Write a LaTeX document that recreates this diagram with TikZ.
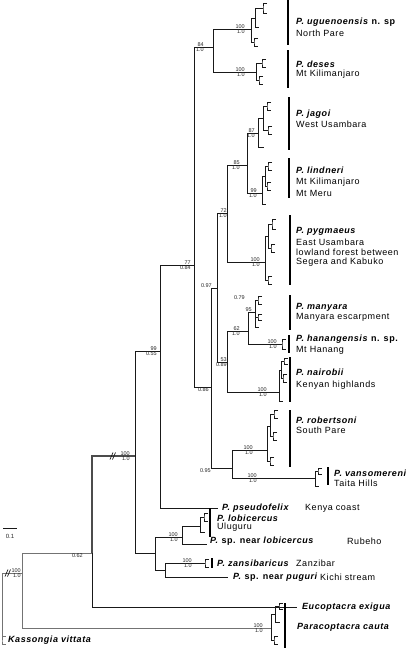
\documentclass[tikz,border=0pt]{standalone}
\usepackage{fontspec}
\setmainfont[LetterSpace=6]{Liberation Sans}
\newfontfamily\bsfont{Liberation Sans}
\tikzset{
  br/.style={draw=black!90, line width=0.7pt},
  gbr/.style={draw=black!55, line width=0.9pt},
  tbr/.style={draw=black!70, line width=1.4pt},
  bar/.style={draw=black, line width=1.3pt},
  sp/.style={anchor=west, inner sep=0pt, font=\fontsize{9}{10}\selectfont\bfseries\itshape},
  loc/.style={anchor=west, inner sep=0pt, font=\fontsize{9}{10}\selectfont},
  bs/.style={inner sep=0pt, font=\bsfont\fontsize{5.5}{5.5}\selectfont, text=black!85},
}
\newcommand\edge[3][br]{\draw[#1] (#2) |- (#3);}
\newcommand\cherry[5][br]{%
  \coordinate (#2) at (#3,#4);
  \coordinate (#2a) at ({#3+4},{#4-#5});
  \coordinate (#2b) at ({#3+4},{#4+#5});
  \draw[#1] (#2a) -| (#2) |- (#2b);}
\newcommand\bsl[4][3]{%
  \node[bs, anchor=south east, xshift=-#1pt, yshift=0.6pt] (#2-t) at (#2) {#3};
  \node[bs, anchor=north east, xshift=-#1pt, yshift=-0.6pt] (#2-b) at (#2) {#4};}
\newcommand\bsu[3][3]{\node[bs, anchor=south east, xshift=-#1pt, yshift=0.6pt] (#2-t) at (#2) {#3};}
\newcommand\bsd[3][3]{\node[bs, anchor=north east, xshift=-#1pt, yshift=-0.6pt] (#2-b) at (#2) {#3};}
\newcommand\brk[1]{\draw[br] (#1) ++(-2,3.5) -- ++(3,-7); \draw[br] (#1) ++(0.5,3.5) -- ++(3,-7);}
\begin{document}
\begin{tikzpicture}[x=1pt,y=-1pt]
\useasboundingbox (0,0) rectangle (406,648);
% ---------- backbone ----------
\coordinate (R) at (2,606);
\coordinate (I) at (22,573);
\cherry[gbr]{K}{2}{640}{4}
\edge[gbr]{R}{I}
\edge[gbr]{R}{K}
\coordinate (N62) at (92,553);
\coordinate (Par) at (271,628);
\edge[gbr]{I}{N62}
\edge[gbr]{I}{Par}
\coordinate (N135) at (135,456);
\coordinate (Euc) at (297,607);
\edge[tbr]{N62}{N135}
\edge{N62}{Euc}
\coordinate (N99) at (160,351);
\coordinate (L) at (155,553);
\edge{N135}{N99}
\edge{N135}{L}
\coordinate (A) at (194,265);
\coordinate (Pse) at (218,508);
\edge{N99}{A}
\edge{N99}{Pse}
\coordinate (D) at (213,47);
\coordinate (X) at (211,387);
\edge{A}{D}
\edge{A}{X}
\coordinate (Ugu) at (251,29);
\coordinate (Des) at (256,72);
\edge{D}{Ugu}
\edge{D}{Des}
\coordinate (B) at (217,288);
\coordinate (H) at (232,468);
\edge{X}{B}
\edge{X}{H}
\coordinate (C) at (227,213);
\coordinate (F) at (227,362);
\edge{B}{C}
\edge{B}{F}
\coordinate (E) at (247,165);
\coordinate (Pyg) at (265,262);
\edge{C}{E}
\edge{C}{Pyg}
\coordinate (Jag) at (258,133);
\coordinate (Lin) at (262,193);
\edge{E}{Jag}
\edge{E}{Lin}
\coordinate (G) at (248,331);
\coordinate (Nai) at (279,392);
\edge{F}{G}
\edge{F}{Nai}
\coordinate (Man) at (255,312);
\coordinate (Han) at (282,344);
\edge{G}{Man}
\edge{G}{Han}
\coordinate (Rob) at (267,450);
\coordinate (Van) at (315,478);
\edge{H}{Rob}
\edge{H}{Van}
\coordinate (Lob) at (182,537);
\coordinate (Z) at (165,570);
\edge{L}{Lob}
\edge{L}{Z}
\coordinate (Lobc) at (200,526);
\coordinate (NLob) at (207,544);
\edge{Lob}{Lobc}
\edge{Lob}{NLob}
\coordinate (Zan) at (205,563);
\coordinate (Pug) at (228,577);
\edge{Z}{Zan}
\edge{Z}{Pug}
% ---------- terminal clusters ----------
\coordinate (u1) at (255,18);
\edge{Ugu}{u1}
\cherry{u2}{254}{42}{4}
\edge{Ugu}{u2}
\cherry{u1a}{263}{8}{5}
\coordinate (u1b) at (259,27);
\edge{u1}{u1a}
\edge{u1}{u1b}
\cherry{d1}{262}{63}{4}
\cherry{d2}{259}{80}{4}
\edge{Des}{d1}
\edge{Des}{d2}
\coordinate (j1) at (263,118);
\coordinate (jt) at (264,147);
\edge{Jag}{j1}
\edge{Jag}{jt}
\cherry{j1a}{267}{106}{4}
\cherry{j1b}{268}{130}{4}
\edge{j1}{j1a}
\edge{j1}{j1b}
\coordinate (l1) at (265,176);
\coordinate (lt) at (266,204);
\edge{Lin}{l1}
\edge{Lin}{lt}
\cherry{l1a}{268}{166}{4}
\cherry{l1b}{267}{186}{4}
\edge{l1}{l1a}
\edge{l1}{l1b}
\coordinate (p1) at (268,236);
\cherry{p2}{268}{280}{4}
\edge{Pyg}{p1}
\edge{Pyg}{p2}
\cherry{p1a}{272}{224}{5}
\cherry{p1b}{271}{248}{4}
\edge{p1}{p1a}
\edge{p1}{p1b}
\cherry{m1}{258}{300}{4}
\cherry{m2}{258}{317}{3}
\coordinate (mt) at (259,327);
\edge{Man}{m1}
\edge{Man}{m2}
\edge{Man}{mt}
\coordinate (Hana) at (286,339);
\coordinate (Hanb) at (286,349);
\draw[br] (Hana) -| (Han) |- (Hanb);
\coordinate (nA) at (281,370);
\coordinate (nt) at (283,401);
\edge{Nai}{nA}
\edge{Nai}{nt}
\cherry{nA1}{284}{361}{3}
\cherry{nA2}{283}{378}{4}
\edge{nA}{nA1}
\edge{nA}{nA2}
\coordinate (r1) at (270,426);
\cherry{r2}{270}{461}{4}
\edge{Rob}{r1}
\edge{Rob}{r2}
\cherry{r1a}{274}{414}{4}
\cherry{r1b}{273}{436}{4}
\edge{r1}{r1a}
\edge{r1}{r1b}
\cherry{v1}{318}{471}{3}
\coordinate (vt) at (319,486);
\edge{Van}{v1}
\edge{Van}{vt}
\cherry{lb1}{204}{517}{4}
\coordinate (lbt) at (205,532);
\edge{Lobc}{lb1}
\edge{Lobc}{lbt}
\coordinate (Zana) at (209,559);
\coordinate (Zanb) at (209,567);
\draw[br] (Zana) -| (Zan) |- (Zanb);
\coordinate (pa1) at (275,614);
\cherry{pa2}{274}{640}{4}
\edge{Par}{pa1}
\edge{Par}{pa2}
\cherry{pa1a}{279}{606}{3}
\coordinate (pa1b) at (280,622);
\edge{pa1}{pa1a}
\edge{pa1}{pa1b}
% ---------- break marks ----------
\coordinate (brI) at (7,573);
\brk{brI}
\coordinate (brN) at (112,456);
\brk{brN}
% ---------- support values ----------
\bsl[1]{I}{100}{1.0}
\bsd[9]{N62}{0.62}
\bsl[5]{N135}{100}{1.0}
\bsl[3]{N99}{99}{0.55}
\bsl[3]{A}{77}{0.84}
\bsl[9]{D}{84}{1.0}
\bsl[6]{Ugu}{100}{1.0}
\bsl[11]{Des}{100}{1.0}
\bsd[2]{X}{0.86}
\bsu[5]{B}{0.97}
\bsl[0]{C}{72}{1.0}
\bsl[7]{E}{85}{1.0}
\bsl[3]{Jag}{87}{1.0}
\bsl[5]{Lin}{99}{1.0}
\bsl[5]{Pyg}{100}{1.0}
\bsl[0]{F}{53}{0.89}
\bsl[8]{G}{62}{1.0}
\bsu[3]{Man}{95}
\node[bs, anchor=east] (Man-x) at (245,298) {0.79};
\bsl[5]{Han}{100}{1.0}
\bsl[12]{Nai}{100}{1.0}
\bsl[14]{Rob}{100}{1.0}
\bsd[21]{H}{0.95}
\bsl[58]{Van}{100}{1.0}
\bsl[4]{Lob}{100}{1.0}
\bsl[13]{Zan}{100}{1.0}
\bsl[8]{Par}{100}{1.0}
% ---------- bars ----------
\draw[bar] (288,0) -- (288,45);
\draw[bar] (288,50) -- (288,88);
\draw[bar] (289,97) -- (289,150);
\draw[bar] (289,158) -- (289,198);
\draw[bar] (290,215) -- (290,285);
\draw[bar] (290,295) -- (290,330);
\draw[bar] (289,335) -- (289,353);
\draw[bar] (290,357) -- (290,402);
\draw[bar] (290,410) -- (290,467);
\draw[bar] (328,467) -- (328,485);
\draw[bar] (210,508) -- (210,537);
\draw[bar] (212,558) -- (212,568);
\draw[bar] (285,603) -- (285,648);
% ---------- labels ----------
\node[sp] (t-ugu) at (296,22) {P. uguenoensis \textup{n. sp}};
\node[loc] (l-ugu) at (296,33) {North Pare};
\node[sp] (t-des) at (296,64) {P. deses};
\node[loc] (l-des) at (296,74) {Mt Kilimanjaro};
\node[sp] (t-jag) at (296,114) {P. jagoi};
\node[loc] (l-jag) at (296,124) {West Usambara};
\node[sp] (t-lin) at (296,170) {P. lindneri};
\node[loc] (l-lin1) at (296,182) {Mt Kilimanjaro};
\node[loc] (l-lin2) at (296,193) {Mt Meru};
\node[sp] (t-pyg) at (296,231) {P. pygmaeus};
\node[loc] (l-pyg1) at (296,242) {East Usambara};
\node[loc] (l-pyg2) at (296,252) {lowland forest between};
\node[loc] (l-pyg3) at (296,262) {Segera and Kabuko};
\node[sp] (t-man) at (296,307) {P. manyara};
\node[loc] (l-man) at (296,317) {Manyara escarpment};
\node[sp] (t-han) at (296,339) {P. hanangensis \textup{n. sp.}};
\node[loc] (l-han) at (296,350) {Mt Hanang};
\node[sp] (t-nai) at (296,372) {P. nairobii};
\node[loc] (l-nai) at (296,385) {Kenyan highlands};
\node[sp] (t-rob) at (296,420) {P. robertsoni};
\node[loc] (l-rob) at (296,430) {South Pare};
\node[sp] (t-van) at (334,473) {P. vansomereni};
\node[loc] (l-van) at (334,483) {Taita Hills};
\node[sp] (t-pse) at (222,508) {P. pseudofelix};
\node[loc] (l-pse) at (305,508) {Kenya coast};
\node[sp] (t-lob) at (217,518) {P. lobicercus};
\node[loc] (l-lob) at (217,527) {Uluguru};
\node[sp] (t-nlob) at (210,541) {P. \textup{sp. near} lobicercus};
\node[loc] (l-nlob) at (347,541) {Rubeho};
\node[sp] (t-zan) at (217,563) {P. zansibaricus};
\node[loc] (l-zan) at (296,563) {Zanzibar};
\node[sp] (t-pug) at (233,577) {P. \textup{sp. near} puguri};
\node[loc] (l-pug) at (320,577) {Kichi stream};
\node[sp] (t-euc) at (302,607) {Eucoptacra exigua};
\node[sp] (t-par) at (297,627) {Paracoptacra cauta};
\node[sp] (t-kas) at (8,640) {Kassongia vittata};
% ---------- scale bar ----------
\coordinate (sb1) at (3,528);
\coordinate (sb2) at (17,528);
\draw[br] (sb1) -- (sb2);
\node[bs, font=\bsfont\fontsize{6}{6}\selectfont] (sbl) at (10,536) {0.1};
\end{tikzpicture}
\end{document}
